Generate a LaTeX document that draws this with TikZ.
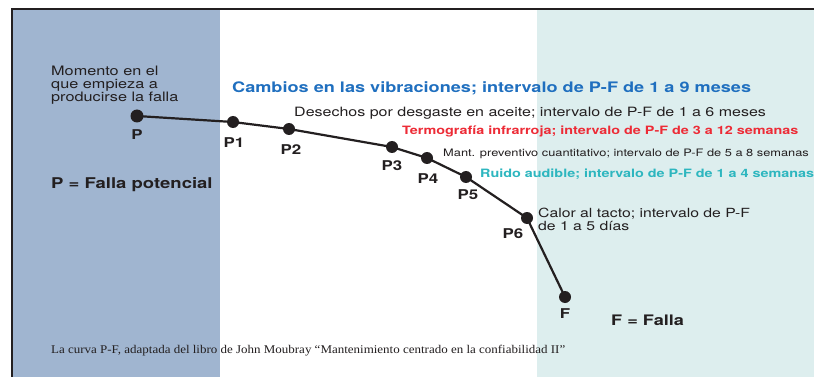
\documentclass[tikz,border=0pt]{standalone}
\usepackage{fontspec}
\setmainfont[FakeStretch=1.25]{TeX Gyre Heros}
\newfontfamily\captionserif[FakeStretch=1.1]{Liberation Serif}
\usepackage{xcolor}
\usepackage{tikz}
\usetikzlibrary{positioning}
\definecolor{panelblue}{HTML}{A0B5D0}
\definecolor{panelteal}{HTML}{DDEEEE}
\definecolor{inkdark}{HTML}{231F20}
\definecolor{textblue}{HTML}{1F6FBF}
\definecolor{textred}{HTML}{ED2B36}
\definecolor{textcyan}{HTML}{2DB6BF}
\tikzset{
    ptdot/.style = {circle, fill=inkdark, inner sep=0pt, minimum size=12pt},
    ptlabel/.style = {anchor=base, inner sep=0pt, text=inkdark, font=\fontsize{13.5}{16}\selectfont\bfseries},
    note/.style = {anchor=base west, inner sep=0pt, text=inkdark, font=\fontsize{12.8}{13}\selectfont},
    bignote/.style = {anchor=base west, inner sep=0pt, font=\fontsize{14.5}{16}\selectfont\bfseries},
    midnote/.style = {anchor=base west, inner sep=0pt, font=\fontsize{11.5}{14}\selectfont\bfseries},
    blocknote/.style = {anchor=north west, inner sep=0pt, align=left, text=inkdark, font=\fontsize{12.8}{13}\selectfont},
}

\begin{document}
\begin{tikzpicture}[x=1pt, y=-1pt, line cap=butt]
  \useasboundingbox (0,0) rectangle (814,377);
  \fill[white] (0,0) rectangle (814,377);
  \fill[panelblue] (12,10) rectangle (220,377);
  \fill[panelteal] (537,10) rectangle (814,377);
  \draw[black!25, line width=0.8pt] (11,8) -- (814,8);
  \draw[inkdark, line width=2pt] (11.5,377) -- (11.5,9.5) -- (814,9.5);

  \node[ptdot, minimum size=13pt] (P)  at (137,116) {};
  \node[ptdot] (P1) at (233,122) {};
  \node[ptdot] (P2) at (289,129) {};
  \node[ptdot] (P3) at (392,147) {};
  \node[ptdot] (P4) at (427,158) {};
  \node[ptdot] (P5) at (466,177) {};
  \node[ptdot] (P6) at (527,218) {};
  \node[ptdot] (F)  at (565,297) {};
  \draw[inkdark, line width=2.2pt] (P.center) -- (P1.center) -- (P2.center) -- (P3.center)
    -- (P4.center) -- (P5.center) -- (P6.center) -- (F.center);

  \node[ptlabel] (lP)  at (137,140) {P};
  \node[ptlabel] (lP1) at (234,148) {P1};
  \node[ptlabel] (lP2) at (291,155) {P2};
  \node[ptlabel] (lP3) at (392,171) {P3};
  \node[ptlabel] (lP4) at (428,183) {P4};
  \node[ptlabel] (lP5) at (468,200) {P5};
  \node[ptlabel] (lP6) at (513,238) {P6};
  \node[ptlabel] (lF)  at (565,318) {F};

  \node[blocknote, font=\fontsize{13}{13}\selectfont] (start) at (51,66) {Momento en el\\que empieza a\\producirse la falla};
  \node[bignote, text=textblue] (vib) at (232,93) {Cambios en las vibraciones; intervalo de P-F de 1 a 9 meses};
  \node[note] (oil) at (294,117) {Desechos por desgaste en aceite; intervalo de P-F de 1 a 6 meses};
  \node[midnote, text=textred] (thermo) at (402,135) {Termografía infrarroja; intervalo de P-F de 3 a 12 semanas};
  \node[note, font=\fontsize{10.25}{12}\selectfont] (prev) at (443,157) {Mant. preventivo cuantitativo; intervalo de P-F de 5 a 8 semanas};
  \node[midnote, text=textcyan] (noise) at (480,178) {Ruido audible; intervalo de P-F de 1 a 4 semanas};
  \node[blocknote, font=\fontsize{12.6}{12.5}\selectfont] (heat) at (538,208) {Calor al tacto; intervalo de P-F\\de 1 a 5 días};
  \node[bignote, text=inkdark, font=\fontsize{14.8}{16}\selectfont\bfseries] (pdef) at (51,188) {P = Falla potencial};
  \node[bignote, text=inkdark] (fdef) at (611,325) {F = Falla};
  \node[anchor=base west, inner sep=0pt, text=inkdark, font=\fontsize{11.8}{13}\captionserif] (cap) at (51,353)
    {La curva P-F, adaptada del libro de John Moubray “Mantenimiento centrado en la confiabilidad II”};
\end{tikzpicture}
\end{document}
